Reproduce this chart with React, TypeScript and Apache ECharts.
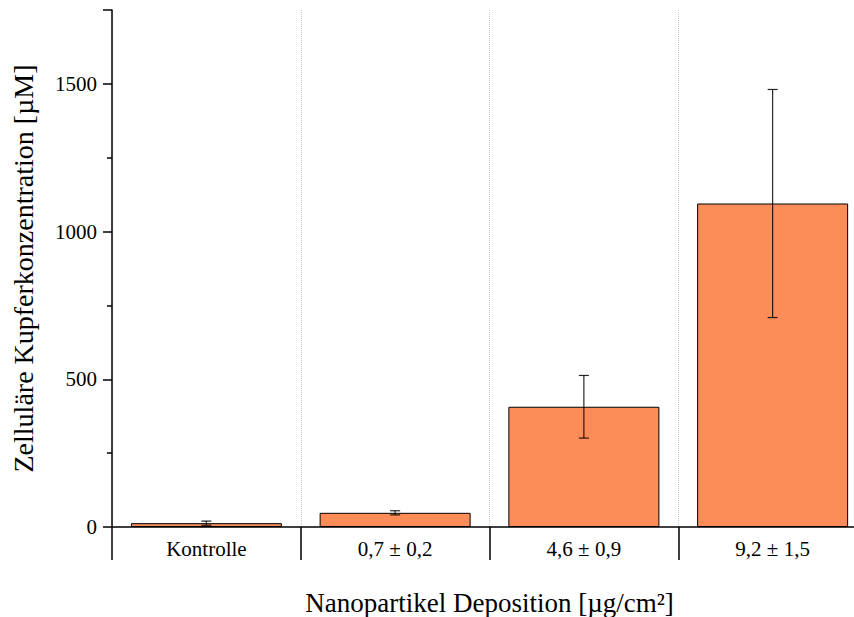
import React, { useEffect, useRef } from "react";
import * as echarts from "echarts";

const categories = ["Kontrolle", "0,7 ± 0,2", "4,6 ± 0,9", "9,2 ± 1,5"];
const means = [13, 48, 407, 1095];
const errors = [7, 7, 106, 386];
const yTicks = [0, 500, 1000, 1500];

const FONT = "Liberation Serif";

export default function App() {
  const ref = useRef<HTMLDivElement>(null);
  useEffect(() => {
    if (!ref.current) return;
    const chart = echarts.init(ref.current, null, { renderer: "svg" });
    const errData = means.map((m, i) => [i, m - errors[i], m + errors[i]]);
    chart.setOption({
      animation: false,
      backgroundColor: "#ffffff",
      grid: {
        left: 112,
        right: -13,
        top: 10,
        bottom: 90,
        containLabel: false,
        outerBoundsMode: "none",
      },
      xAxis: {
        type: "category",
        data: categories,
        name: "Nanopartikel Deposition [µg/cm²]",
        nameLocation: "middle",
        nameGap: 62,
        nameTextStyle: { fontFamily: FONT, fontSize: 27, color: "#000" },
        axisLine: { show: true, lineStyle: { color: "#000", width: 1.5 } },
        axisTick: { show: true, length: 33, interval: 0, lineStyle: { color: "#000", width: 1.5 } },
        axisLabel: { fontFamily: FONT, fontSize: 21, color: "#000", margin: 11, interval: 0 },
        splitLine: { show: true, interval: 0, lineStyle: { color: "#c8c8c8", type: "dotted", width: 1 } },
      },
      yAxis: {
        type: "value",
        min: 0,
        max: 1750,
        interval: 500,
        name: "Zelluläre Kupferkonzentration [µM]",
        nameLocation: "middle",
        nameGap: 75,
        nameTextStyle: { fontFamily: FONT, fontSize: 28, color: "#000" },
        axisLine: { show: true, lineStyle: { color: "#000", width: 1.5 } },
        axisTick: { show: true, length: 9, lineStyle: { color: "#000", width: 1.5 } },
        minorTick: { show: true, splitNumber: 2, length: 5, lineStyle: { color: "#000", width: 1.5 } },
        axisLabel: {
          fontFamily: FONT,
          fontSize: 21,
          color: "#000",
          margin: 15,
          formatter: (v: number) => (yTicks.includes(v) ? String(v) : ""),
        },
        splitLine: { show: false },
      },
      series: [
        {
          type: "bar",
          data: means,
          barWidth: "80%",
          itemStyle: { color: "#FC8D59", borderColor: "#000", borderWidth: 1 },
        },
        {
          type: "custom",
          data: errData,
          encode: { x: 0, y: [1, 2] },
          z: 10,
          renderItem: (params: any, api: any) => {
            const x = api.value(0);
            const lo = api.coord([x, api.value(1)]);
            const hi = api.coord([x, api.value(2)]);
            const hw = 5;
            const style = { stroke: "#000", lineWidth: 1.2, opacity: 0.85 };
            return {
              type: "group",
              children: [
                { type: "line", shape: { x1: hi[0], y1: hi[1], x2: lo[0], y2: lo[1] }, style },
                { type: "line", shape: { x1: hi[0] - hw, y1: hi[1], x2: hi[0] + hw, y2: hi[1] }, style },
                { type: "line", shape: { x1: lo[0] - hw, y1: lo[1], x2: lo[0] + hw, y2: lo[1] }, style },
              ],
            };
          },
        },
      ],
    });
    return () => chart.dispose();
  }, []);
  return (
    <div
      ref={ref}
      style={{ position: "fixed", left: 0, top: 0, width: 854, height: 617 }}
    />
  );
}
